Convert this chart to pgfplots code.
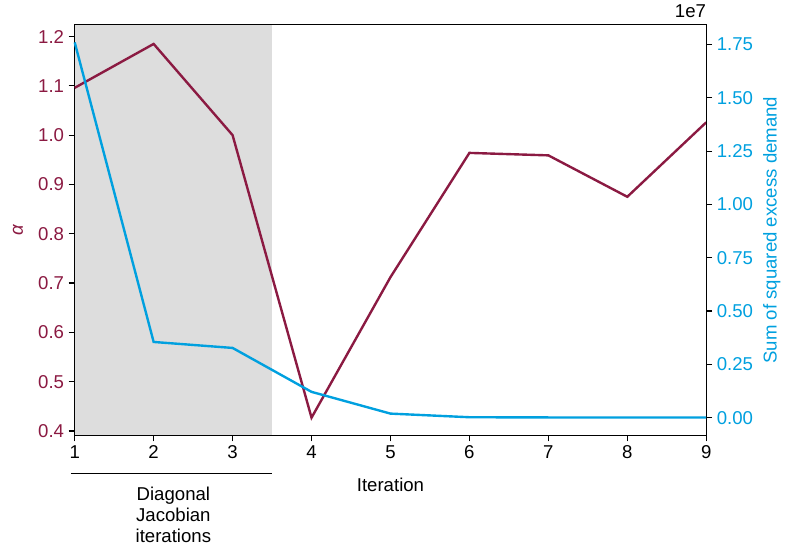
\documentclass[border=0pt]{standalone}
\usepackage{pgfplots}
\pgfplotsset{compat=1.18}
\usepackage{fontspec}
\setmainfont{Liberation Sans}
\definecolor{maroon}{RGB}{139,26,66}
\definecolor{skyb}{RGB}{0,160,223}
\definecolor{shadegray}{RGB}{221,221,221}
\pgfplotsset{
  every axis/.append style={
    scale only axis, width=475.5pt, height=309pt,
    xmin=1, xmax=9,
    /pgf/number format/assume math mode=true,
    tick label style={font=\fontsize{14pt}{16pt}\selectfont},
    label style={font=\fontsize{14pt}{16pt}\selectfont},
    tick align=outside, major tick length=4.5pt,
    every tick/.style={black, line width=0.9pt},
    axis line style={line width=0.9pt, black},
  }
}
\begin{document}
\begin{tikzpicture}
\begin{axis}[
  name=a1,
  ymin=0.3913, ymax=1.2236,
  xtick={1,2,3,4,5,6,7,8,9},
  ytick={0.4,0.5,0.6,0.7,0.8,0.9,1.0,1.1,1.2},
  xtick pos=lower, ytick pos=left,
  yticklabel style={color=maroon, /pgf/number format/.cd, fixed, fixed zerofill, precision=1},
  xlabel={Iteration},
  xlabel style={at={(axis description cs:0.5,-0.121)}, anchor=center},
  ylabel={\itshape α},
  ylabel style={at={(axis description cs:-0.0899,0.5)}, anchor=center, color=maroon},
  clip=false,
]
\addplot[fill=shadegray, draw=none] coordinates {(1,0.3913) (3.5,0.3913) (3.5,1.2236) (1,1.2236)} -- cycle;
\addplot[color=maroon, line width=1.8pt] coordinates {
(1,1.096) (2,1.185) (3,1.000) (4,0.427) (5,0.712) (6,0.964) (7,0.959) (8,0.875) (9,1.026)};
\draw[line width=0.9pt] ([yshift=-28.5pt]axis cs:0.95,0.3913) -- ([yshift=-28.5pt]axis cs:3.5,0.3913);
\node[anchor=north, align=center, inner sep=0pt, font=\fontsize{14pt}{15.75pt}\selectfont]
  at ([yshift=-38.5pt]axis cs:2.25,0.3913) {Diagonal\\Jacobian\\iterations};
\path (rel axis cs:0,0) ++(-56.25pt,-83.25pt) rectangle ++(588.75pt,411pt);
\end{axis}
\begin{axis}[
  ymin=-0.0827, ymax=1.842,
  hide x axis,
  axis y line*=right,
  ytick={0,0.25,0.5,0.75,1.0,1.25,1.5,1.75},
  yticklabel style={color=skyb, /pgf/number format/.cd, fixed, fixed zerofill, precision=2},
  ylabel={Sum of squared excess demand},
  ylabel style={at={(axis description cs:1.104,0.5)}, anchor=center, color=skyb},
  clip=false,
]
\addplot[color=skyb, line width=1.8pt] coordinates {
(1,1.76) (2,0.355) (3,0.327) (4,0.121) (5,0.019) (6,0.002) (7,0.001) (8,0.001) (9,0.001)};
\node[anchor=south east, inner sep=0pt, font=\fontsize{14pt}{16pt}\selectfont] at ([yshift=5pt]rel axis cs:1,1) {1e7};
\end{axis}
\end{tikzpicture}
\end{document}
